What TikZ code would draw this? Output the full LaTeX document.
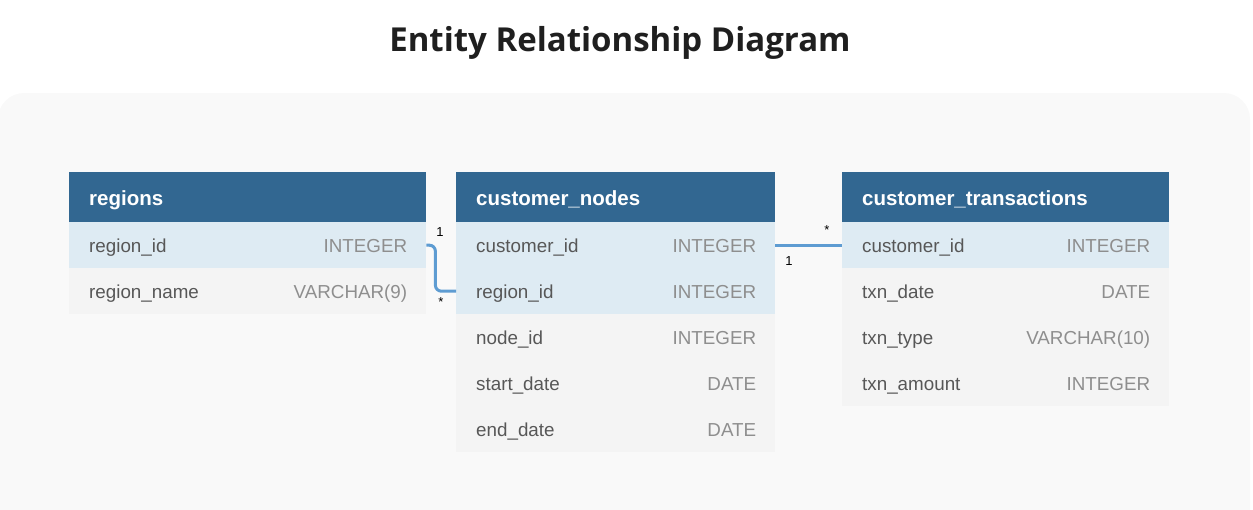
\documentclass[tikz,border=0pt]{standalone}
\usepackage{fontspec}
\setmainfont{Liberation Sans}
\newfontfamily\titlefont{Open Sans}
\definecolor{hdrblue}{HTML}{326791}
\definecolor{hilite}{HTML}{DEEBF3}
\definecolor{rowgray}{HTML}{F4F4F4}
\definecolor{panelbg}{HTML}{F9F9F9}
\definecolor{connblue}{HTML}{5E9CD2}
\definecolor{fieldcol}{HTML}{575757}
\definecolor{typecol}{HTML}{8E8E8E}
\definecolor{titlecol}{HTML}{1F1F1F}
\tikzset{
  hdrbox/.style={fill=hdrblue, draw=none, anchor=north west, minimum height=50pt, inner sep=0pt},
  rowbox/.style={draw=none, anchor=north west, minimum height=46pt, inner sep=0pt},
  keyrow/.style={fill=hilite},
  plainrow/.style={fill=rowgray},
  hdrtxt/.style={text=white, font=\fontsize{20.5}{23}\selectfont\bfseries, inner sep=0pt, anchor=base west},
  fieldtxt/.style={text=fieldcol, font=\fontsize{18.8}{22}\selectfont, inner sep=0pt, anchor=base west},
  typetxt/.style={text=typecol, font=\fontsize{18.8}{22}\selectfont, inner sep=0pt, anchor=base east},
  conn/.style={draw=connblue, line width=3pt, rounded corners=6pt},
  card/.style={text=black, font=\fontsize{13}{15}\selectfont, inner sep=0pt}
}
% table header: name, x, y, width, title
\newcommand\erhead[5]{%
  \node[hdrbox, minimum width=#4pt] (#1) at (#2,#3) {};
  \node[hdrtxt] (#1-t) at ([xshift=20pt,yshift=-8pt]#1.west) {#5};}
% table row: name, x, y, width, style, field, type
\newcommand\errow[7]{%
  \node[rowbox, #5, minimum width=#4pt] (#1) at (#2,#3) {};
  \node[fieldtxt] (#1-f) at ([xshift=20pt,yshift=-7pt]#1.west) {#6};
  \node[typetxt] (#1-y) at ([xshift=-19pt,yshift=-7pt]#1.east) {#7};}
\begin{document}
\begin{tikzpicture}[x=1pt,y=-1pt]
\useasboundingbox (0,0) rectangle (1253,509);
\clip (0,0) rectangle (1253,509);
% backdrop panel
\fill[panelbg, rounded corners=26pt] (-2,93) rectangle (1250,540);
% title
\node[text=titlecol, font=\titlefont\bfseries\fontsize{33}{38}\selectfont, inner sep=0pt, anchor=base] (title) at (620,51) {Entity Relationship Diagram};

% regions
\erhead{rg}{69}{172}{357}{regions}
\errow{rg1}{69}{222}{357}{keyrow}{region\_id}{INTEGER}
\errow{rg2}{69}{268}{357}{plainrow}{region\_name}{VARCHAR(9)}

% customer_nodes
\erhead{cn}{456}{172}{319}{customer\_nodes}
\errow{cn1}{456}{222}{319}{keyrow}{customer\_id}{INTEGER}
\errow{cn2}{456}{268}{319}{keyrow}{region\_id}{INTEGER}
\errow{cn3}{456}{314}{319}{plainrow}{node\_id}{INTEGER}
\errow{cn4}{456}{360}{319}{plainrow}{start\_date}{DATE}
\errow{cn5}{456}{406}{319}{plainrow}{end\_date}{DATE}

% customer_transactions
\erhead{ct}{842}{172}{327}{customer\_transactions}
\errow{ct1}{842}{222}{327}{keyrow}{customer\_id}{INTEGER}
\errow{ct2}{842}{268}{327}{plainrow}{txn\_date}{DATE}
\errow{ct3}{842}{314}{327}{plainrow}{txn\_type}{VARCHAR(10)}
\errow{ct4}{842}{360}{327}{plainrow}{txn\_amount}{INTEGER}

% relationships
\draw[conn] (rg1.east) -- ([xshift=9pt]rg1.east) |- (cn2.west);
\draw[conn] (cn1.east) -- (ct1.west);

% cardinalities
\node[card] (c1) at (440,232) {1};
\node[card] (c2) at (441,302) {*};
\node[card] (c3) at (827,230) {*};
\node[card] (c4) at (789,261) {1};
\end{tikzpicture}
\end{document}
